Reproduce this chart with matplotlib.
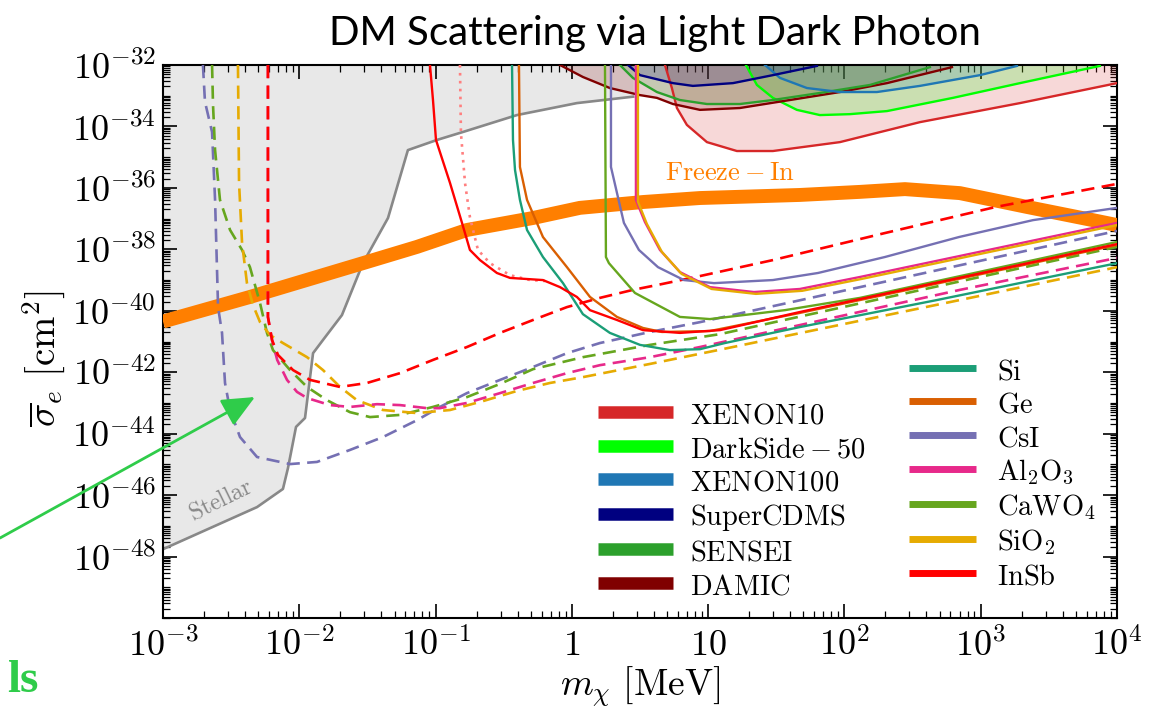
import numpy as np
import matplotlib
matplotlib.use("Agg")
import matplotlib.pyplot as plt
from matplotlib.lines import Line2D
from matplotlib.ticker import LogLocator, NullFormatter

plt.rcParams['mathtext.fontset'] = 'cm'
plt.rcParams['font.family'] = 'DejaVu Sans'

# ---------------- data: log10(m_chi / MeV), log10(sigma_e / cm^2) ----------------
stellar_lm = [-3.0, -2.310, -2.120, -2.083, -2.024, -1.958, -1.899, -1.826, -1.687,
              -1.533, -1.349, -1.203, -0.990, -0.799, -0.403, 0.037, 0.45]
stellar_ls = [-47.76, -46.39, -45.80, -45.12, -43.78, -43.49, -41.38, -40.95, -40.14,
              -38.45, -36.98, -34.77, -34.44, -34.18, -33.63, -33.24, -33.03]

freeze_lm = [-3.0, -2.362, -1.533, -1.136, -0.770, -0.285, 0.059, 0.522, 0.940,
             1.673, 2.114, 2.444, 2.847, 3.339, 3.823, 4.0]
freeze_ls = [-40.35, -39.55, -38.45, -37.92, -37.37, -36.98, -36.65, -36.46, -36.33,
             -36.23, -36.13, -36.04, -36.17, -36.62, -37.05, -37.21]

# experimental limits (excluded above each curve)
xenon10_lm = [0.683, 0.734, 0.771, 0.844, 0.991, 1.211, 1.475, 1.967, 2.554, 3.288, 4.0]
xenon10_ls = [-32.0, -32.75, -33.40, -33.95, -34.51, -34.80, -34.80, -34.51, -33.86, -33.24, -32.59]

darkside_lm = [1.277, 1.358, 1.475, 1.651, 1.820, 2.040, 2.312, 2.796, 3.288, 3.874]
darkside_ls = [-32.0, -32.65, -33.07, -33.46, -33.63, -33.60, -33.50, -33.07, -32.59, -32.03]

xenon100_lm = [1.417, 1.527, 1.725, 1.967, 2.238, 2.554, 2.994, 3.266]
xenon100_ls = [-32.0, -32.42, -32.75, -32.88, -32.88, -32.68, -32.33, -32.03]

supercdms_lm = [0.412, 0.500, 0.742, 0.888, 1.182, 1.475, 1.798]
supercdms_ls = [-32.0, -32.33, -32.59, -32.68, -32.59, -32.33, -32.03]

sensei_lm = [0.353, 0.448, 0.624, 0.793, 0.991, 1.233, 1.475, 1.820, 2.187, 2.627]
sensei_ls = [-32.0, -32.42, -32.88, -33.14, -33.27, -33.27, -33.14, -32.91, -32.65, -32.07]

damic_lm = [-0.087, 0.081, 0.279, 0.500, 0.624, 0.742, 0.940, 1.233, 1.600, 1.967, 2.312, 2.789]
damic_ls = [-32.0, -32.39, -32.75, -32.98, -33.07, -33.27, -33.46, -33.40, -33.14, -32.88, -32.59, -32.07]

# target materials, solid curves
si_lm = [-0.439, -0.432, -0.417, -0.381, -0.329, -0.212, -0.065, 0.081, 0.279, 0.500,
         0.720, 0.940, 1.123, 1.673, 2.679, 4.0]
si_ls = [-32.0, -34.44, -35.42, -36.39, -37.37, -38.25, -39.10, -40.11, -40.72, -41.11,
         -41.28, -41.25, -41.05, -40.53, -39.65, -38.45]

ge_lm = [-0.388, -0.381, -0.329, -0.212, -0.036, 0.133, 0.331, 0.522, 0.661, 1.013, 1.673, 4.0]
ge_ls = [-32.0, -35.32, -36.39, -37.60, -38.58, -39.55, -40.20, -40.56, -40.69, -40.66, -40.07, -37.86]

csi_lm = [0.287, 0.287, 0.382, 0.492, 0.632, 0.822, 1.043, 1.475, 1.806, 2.297, 2.840, 3.383, 4.0]
csi_ls = [-32.0, -35.32, -37.14, -38.02, -38.58, -39.00, -39.10, -39.00, -38.77, -38.25, -37.60, -37.05, -36.65]

al2o3_lm = [0.470, 0.470, 0.536, 0.646, 0.793, 1.013, 1.336, 1.673, 2.114, 4.0]
al2o3_ls = [-32.0, -36.39, -37.11, -38.02, -38.74, -39.23, -39.39, -39.29, -38.90, -37.14]

cawo4_lm = [0.243, 0.250, 0.272, 0.463, 0.793, 1.013, 1.563, 2.114, 4.0]
cawo4_ls = [-32.0, -38.25, -38.45, -39.42, -40.20, -40.27, -39.98, -39.58, -37.76]

sio2_lm = [0.485, 0.485, 0.550, 0.660, 0.805, 1.025, 1.350, 1.690, 2.130, 4.0]
sio2_ls = [-32.0, -36.45, -37.17, -38.08, -38.80, -39.29, -39.45, -39.35, -38.96, -37.21]

insb_lm = [-1.041, -1.019, -0.997, -0.894, -0.806, -0.748, -0.674, -0.550, -0.454, -0.212,
           -0.087, 0.037, 0.133, 0.331, 0.522, 0.793, 1.087, 1.673, 2.114, 4.0]
insb_ls = [-32.0, -33.14, -34.44, -35.84, -37.14, -38.02, -38.35, -38.77, -38.93, -39.00,
           -39.23, -39.55, -39.98, -40.30, -40.63, -40.72, -40.63, -40.04, -39.62, -37.83]

insb_dot_lm = [-0.821, -0.814, -0.784, -0.748, -0.689, -0.601, -0.454, -0.307, -0.197]
insb_dot_ls = [-32.0, -34.21, -35.84, -36.95, -38.02, -38.45, -38.84, -39.00, -39.03]

# target materials, dashed curves
csi_d_lm = [-2.707, -2.692, -2.640, -2.618, -2.596, -2.567, -2.545, -2.508, -2.435, -2.310,
            -2.068, -1.870, -1.628, -1.386, -1.136, -0.968, -0.770, -0.527, -0.285, -0.036,
            0.206, 0.573, 0.940, 2.114, 4.0]
csi_d_ls = [-32.0, -33.20, -34.18, -36.39, -39.88, -40.72, -42.35, -43.23, -44.11, -44.76,
            -44.99, -44.92, -44.53, -44.11, -43.56, -43.13, -42.68, -42.25, -41.83, -41.38,
            -41.05, -40.69, -40.37, -39.23, -37.40]

cawo4_d_lm = [-2.640, -2.633, -2.618, -2.582, -2.508, -2.420, -2.362, -2.288, -2.237, -2.193,
              -2.068, -1.943, -1.797, -1.628, -1.481, -1.261, -1.019, -0.770, -0.527, -0.285,
              0.081, 0.573, 1.087, 4.0]
cawo4_d_ls = [-32.0, -33.30, -34.77, -36.39, -37.37, -38.02, -38.58, -39.75, -40.72, -41.28,
              -41.93, -42.48, -42.91, -43.30, -43.46, -43.39, -43.13, -42.81, -42.38, -41.90,
              -41.51, -41.11, -40.76, -37.92]

al2o3_d_lm = [-2.230, -2.230, -2.200, -2.162, -2.090, -2.017, -1.943, -1.775, -1.628, -1.430,
              -1.261, -1.063, -0.968, -0.770, -0.527, -0.285, -0.036, 0.206, 0.573, 0.940,
              2.847, 4.0]
al2o3_d_ls = [-32.0, -40.20, -40.95, -41.60, -42.25, -42.64, -42.84, -43.07, -43.13, -43.04,
              -43.07, -43.17, -43.17, -43.00, -42.68, -42.35, -42.03, -41.77, -41.51, -41.18,
              -39.32, -38.28]

sio2_d_lm = [-2.450, -2.442, -2.420, -2.384, -2.340, -2.288, -2.215, -2.120, -1.943, -1.826,
             -1.701, -1.577, -1.386, -1.136, -0.894, -0.652, -0.403, -0.161, 0.081, 0.573,
             1.072, 2.847, 4.0]
sio2_d_ls = [-32.0, -35.84, -37.79, -39.10, -39.81, -40.37, -40.79, -41.05, -41.51, -41.93,
             -42.48, -42.91, -43.23, -43.33, -43.23, -42.94, -42.61, -42.35, -42.16, -41.73,
             -41.28, -39.65, -38.58]

insb_d_lm = [-2.230, -2.230, -2.200, -2.156, -2.046, -1.921, -1.701, -1.503, -1.261, -1.019,
             -0.770, -0.527, -0.285, -0.036, 0.206, 0.448, 0.661, 0.940, 1.475, 2.297, 3.111, 4.0]
insb_d_ls = [-32.0, -40.20, -40.95, -41.44, -41.93, -42.25, -42.48, -42.35, -42.03, -41.60,
             -41.18, -40.72, -40.30, -39.88, -39.58, -39.32, -39.13, -38.87, -38.35, -37.47,
             -36.62, -35.87]

x_tick_exp = [-3, -2, -1, 0, 1, 2, 3, 4]
x_tick_labels = [r'$10^{-3}$', r'$10^{-2}$', r'$10^{-1}$', r'$1$', r'$10$',
                 r'$10^{2}$', r'$10^{3}$', r'$10^{4}$']
y_tick_exp = [-48, -46, -44, -42, -40, -38, -36, -34, -32]

exp_names = [r'$\mathrm{XENON10}$', r'$\mathrm{DarkSide-50}$', r'$\mathrm{XENON100}$',
             r'$\mathrm{SuperCDMS}$', r'$\mathrm{SENSEI}$', r'$\mathrm{DAMIC}$']
mat_names = [r'$\mathrm{Si}$', r'$\mathrm{Ge}$', r'$\mathrm{CsI}$', r'$\mathrm{Al_2O_3}$',
             r'$\mathrm{CaWO_4}$', r'$\mathrm{SiO_2}$', r'$\mathrm{InSb}$']

# ---------------- colours ----------------
C_XE10, C_DS, C_XE100, C_CDMS, C_SENSEI, C_DAMIC = '#d62728', '#00ff00', '#1f77b4', '#000080', '#2ca02c', '#800000'
C_SI, C_GE, C_CSI, C_AL, C_CA, C_SIO2, C_INSB = '#1b9e77', '#d95f02', '#7570b3', '#e7298a', '#66a61e', '#e6ab02', '#ff0000'
C_FREEZE = '#ff7f00'
C_ARROW = '#2fcc4a'


def v(a):
    return 10.0 ** np.asarray(a, dtype=float)


W, H = 1165, 709
fig = plt.figure(figsize=(W / 100, H / 100), dpi=100)
ax = fig.add_axes([163 / W, 1 - 618 / H, 954 / W, 553 / H])
ax.set_xscale('log')
ax.set_yscale('log')
ax.set_xlim(1e-3, 1e4)
ax.set_ylim(1e-50, 1e-32)

# stellar bound
ax.fill_between(v(stellar_lm), v(stellar_ls), 1e-32, color='#e8e8e8', lw=0, zorder=1)
ax.plot(v(stellar_lm), v(stellar_ls), color='#888888', lw=1.9, zorder=2)
ax.text(10 ** -2.58, 10 ** -46.15, r'$\mathrm{Stellar}$', color='#888888', fontsize=17,
        rotation=26, ha='center', va='center', zorder=2)

# experimental exclusion regions
for lm, ls, c in [(xenon10_lm, xenon10_ls, C_XE10), (darkside_lm, darkside_ls, C_DS),
                  (damic_lm, damic_ls, C_DAMIC), (sensei_lm, sensei_ls, C_SENSEI),
                  (xenon100_lm, xenon100_ls, C_XE100), (supercdms_lm, supercdms_ls, C_CDMS)]:
    ax.fill_between(v(lm), v(ls), 1e-32, color=c, alpha=0.18, lw=0, zorder=2)
    ax.plot(v(lm), v(ls), color=c, lw=1.7, zorder=3)

# freeze-in band
ax.plot(v(freeze_lm), v(freeze_ls), color=C_FREEZE, lw=10, solid_capstyle='butt', zorder=3)
ax.text(10 ** 1.16, 10 ** -35.5, r'$\mathrm{Freeze-In}$', color=C_FREEZE, fontsize=19,
        ha='center', va='center', zorder=3)

# dashed material curves
dash = (0, (5, 2.8))
for lm, ls, c in [(csi_d_lm, csi_d_ls, C_CSI), (cawo4_d_lm, cawo4_d_ls, C_CA),
                  (sio2_d_lm, sio2_d_ls, C_SIO2), (al2o3_d_lm, al2o3_d_ls, C_AL),
                  (insb_d_lm, insb_d_ls, C_INSB)]:
    ax.plot(v(lm), v(ls), color=c, lw=1.9, ls=dash, zorder=4)

# solid material curves
ax.plot(v(insb_dot_lm), v(insb_dot_ls), color='#ff7f7f', lw=1.9, ls=(0, (1, 2)), zorder=4)
for lm, ls, c in [(si_lm, si_ls, C_SI), (ge_lm, ge_ls, C_GE), (csi_lm, csi_ls, C_CSI),
                  (cawo4_lm, cawo4_ls, C_CA), (insb_lm, insb_ls, C_INSB),
                  (al2o3_lm, al2o3_ls, C_AL), (sio2_lm, sio2_ls, C_SIO2)]:
    ax.plot(v(lm), v(ls), color=c, lw=1.7, zorder=5)

# axes styling
ax.set_xticks(v(x_tick_exp))
ax.set_xticklabels(x_tick_labels)
ax.set_yticks(v(y_tick_exp))
ax.set_yticklabels([r'$10^{%d}$' % e for e in y_tick_exp])
ax.xaxis.set_minor_locator(LogLocator(base=10, subs=np.arange(2, 10), numticks=100))
ax.yaxis.set_minor_locator(LogLocator(base=10, subs=np.arange(1, 10), numticks=200))
ax.xaxis.set_minor_formatter(NullFormatter())
ax.yaxis.set_minor_formatter(NullFormatter())
ax.tick_params(which='both', direction='in', top=True, right=True, labelsize=26)
ax.tick_params(which='major', length=10, width=1.2)
ax.tick_params(which='minor', length=5, width=0.9)
ax.tick_params(axis='x', pad=7)
ax.tick_params(axis='y', pad=5)
for sp in ax.spines.values():
    sp.set_linewidth(1.5)

ax.set_xlabel(r'$m_\chi\ [\mathrm{MeV}]$', fontsize=27)
ax.xaxis.set_label_coords(0.5, -0.085)
ax.set_ylabel(r'$\overline{\sigma}_e\ [\mathrm{cm}^2]$', fontsize=28)
ax.yaxis.set_label_coords(-0.10, 0.47)

# legends
FS = 20.5
FS_PX = FS * 100 / 72
h1 = [Line2D([], [], color=c, lw=9, solid_capstyle='butt')
      for c in [C_XE10, C_DS, C_XE100, C_CDMS, C_SENSEI, C_DAMIC]]
leg1 = ax.legend(h1, exp_names, loc='center left', bbox_to_anchor=(0.456, 0.2125),
                 frameon=False, fontsize=FS, handlelength=75 / FS_PX, handleheight=1.0,
                 handletextpad=17 / FS_PX, labelspacing=0.18, borderpad=0, borderaxespad=0)
ax.add_artist(leg1)
h2 = [Line2D([], [], color=c, lw=5, solid_capstyle='butt')
      for c in [C_SI, C_GE, C_CSI, C_AL, C_CA, C_SIO2, C_INSB]]
ax.legend(h2, mat_names, loc='center left', bbox_to_anchor=(0.782, 0.261),
          frameon=False, fontsize=FS, handlelength=67 / FS_PX, handleheight=1.0,
          handletextpad=21 / FS_PX, labelspacing=0.18, borderpad=0, borderaxespad=0)

# slide elements around the plot
fig.text(655 / W, 1 - 33 / H, 'DM Scattering via Light Dark Photon', ha='center', va='center',
         fontsize=29, family='Lato')
ax.annotate('', xy=(255, H - 397), xytext=(0, H - 538), xycoords='figure pixels',
            textcoords='figure pixels', annotation_clip=False, zorder=10,
            arrowprops=dict(arrowstyle='-|>,head_length=1.0,head_width=0.45', color=C_ARROW,
                            lw=2, shrinkA=0, shrinkB=0, mutation_scale=20))
fig.text(38 / W, 1 - 681 / H, 'ls', ha='right', va='center', fontsize=34,
         fontweight='bold', family='Liberation Serif', color=C_ARROW)

fig.savefig('out.png', dpi=100)
